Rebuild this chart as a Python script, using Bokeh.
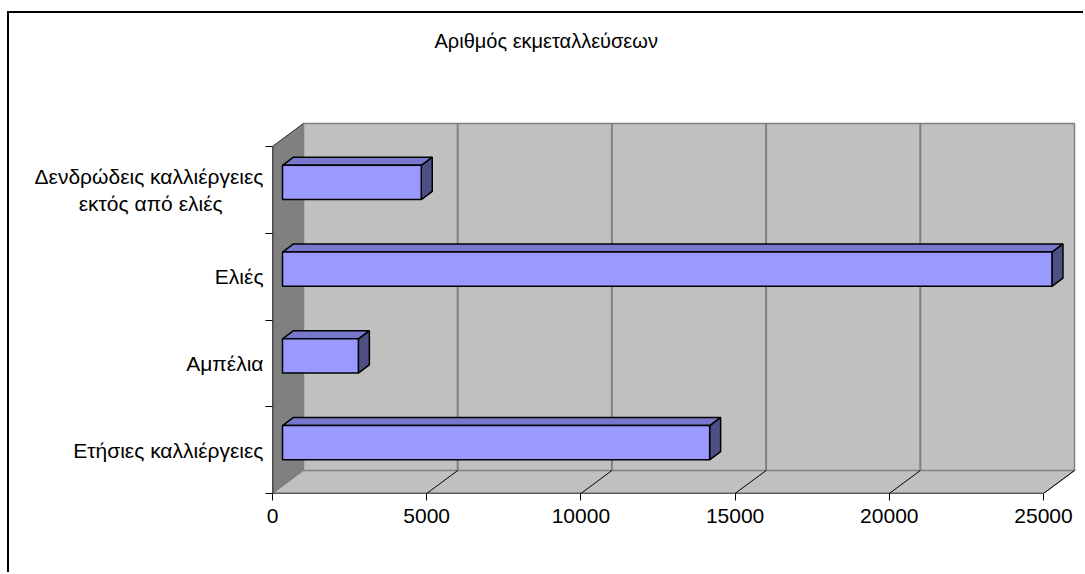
from bokeh.plotting import figure
from bokeh.models import FixedTicker, Title
from bokeh.embed import file_html
from bokeh.resources import INLINE

# ---- data ----
NB = "\u00a0"
categories = ["Ετήσιες καλλιέργειες", "Αμπέλια", "Ελιές",
              "Δενδρώδεις καλλιέργειες\nεκτός από ελιές" + NB * 7]
values = [13850, 2460, 24950, 4500]
x_ticks = [0, 5000, 10000, 15000, 20000, 25000]
x_max = 25000
title_text = "Αριθμός εκμεταλλεύσεων"

# ---- layout constants (page pixels) ----
OX, OY = 9, 13            # canvas origin on page (after border)
W, H = 1085 - OX, 574 - OY
F_LEFT, F_RIGHT, F_TOP, F_BOTTOM = 272, 1080, 62, 493
PX_PER_UNIT_X = 771 / 25000.0
PX_PER_CAT = 86.75
DEPTH_PX_X, DEPTH_PX_Y = 31, 23
FONT = "Liberation Sans"
FS = "21px"

x_end = (F_RIGHT - F_LEFT) / PX_PER_UNIT_X
y_end = (F_BOTTOM - F_TOP) / PX_PER_CAT
DX = DEPTH_PX_X / PX_PER_UNIT_X
DY = DEPTH_PX_Y / PX_PER_CAT
n = len(categories)

p = figure(width=W, height=H, output_backend="svg", toolbar_location=None,
           x_range=(0, x_end), y_range=(0, y_end),
           min_border_left=F_LEFT - OX, min_border_right=OX + W - F_RIGHT,
           min_border_top=F_TOP - OY, min_border_bottom=OY + H - F_BOTTOM)
p.styles = {"margin-left": "7px", "margin-top": "11px",
            "border-left": "2px solid #000", "border-top": "2px solid #000"}
p.outline_line_color = None
p.background_fill_color = "white"
p.border_fill_color = "white"
p.grid.visible = False

t = Title(text=title_text, align="left", offset=434 - F_LEFT,
          text_font=FONT, text_font_size="20px", text_font_style="normal",
          text_color="black", standoff=21)
p.title = t

# left wall
p.patch([0, DX, DX, 0], [0, DY, n + DY, n], fill_color="#808080",
        line_color="#606060", line_width=1)
# floor
p.patch([0, x_max, x_max + DX, DX], [0, 0, DY, DY], fill_color="#C0C0C0",
        line_color="#808080", line_width=1)
# back wall
p.quad(left=[DX], right=[x_max + DX], bottom=[DY], top=[n + DY],
       fill_color="#C0C0C0", line_color="#808080", line_width=1.5)
# back wall gridlines
gx = [v + DX for v in x_ticks[1:-1]]
p.segment(x0=gx, y0=[DY] * len(gx), x1=gx, y1=[n + DY] * len(gx),
          line_color="#808080", line_width=2)
# floor gridlines (diagonals)
fx = x_ticks[1:]
p.segment(x0=fx, y0=[0] * len(fx), x1=[v + DX for v in fx], y1=[DY] * len(fx),
          line_color="black", line_width=1)
# left wall top diagonal
p.segment(x0=[0], y0=[n], x1=[DX], y1=[n + DY], line_color="#404040", line_width=1)
# axis lines
p.segment(x0=[0], y0=[0], x1=[x_max], y1=[0], line_color="black", line_width=1.5)
p.segment(x0=[0], y0=[0], x1=[0], y1=[n], line_color="black", line_width=1.5)

# bars (3D)
f0, f1 = 10 / 31.0, 21 / 31.0
half = 0.197
for i, v in enumerate(values):
    c = i + 0.5
    yb, yt = c - half, c + half
    # side face
    p.patch([v + f0 * DX, v + f1 * DX, v + f1 * DX, v + f0 * DX],
            [yb + f0 * DY, yb + f1 * DY, yt + f1 * DY, yt + f0 * DY],
            fill_color="#4F4F85", line_color="black", line_width=1.5)
    # top face
    p.patch([0 + f0 * DX, v + f0 * DX, v + f1 * DX, 0 + f1 * DX],
            [yt + f0 * DY, yt + f0 * DY, yt + f1 * DY, yt + f1 * DY],
            fill_color="#7777CC", line_color="black", line_width=1.5)
    # front face
    p.quad(left=[0 + f0 * DX], right=[v + f0 * DX], bottom=[yb + f0 * DY], top=[yt + f0 * DY],
           fill_color="#9999FF", line_color="black", line_width=1.5)

# x axis
xa = p.xaxis[0]
xa.ticker = FixedTicker(ticks=x_ticks)
xa.axis_line_color = None
xa.major_tick_out = 7
xa.major_tick_in = 0
xa.major_tick_line_color = "black"
xa.minor_tick_line_color = None
xa.major_label_text_font = FONT
xa.major_label_text_font_size = FS
xa.major_label_text_color = "black"
xa.major_label_standoff = 8
xa.major_label_overrides = {v: str(v) for v in x_ticks}

# y axis
ya = p.yaxis[0]
ya.ticker = FixedTicker(ticks=[i + 0.5 for i in range(n)], minor_ticks=list(range(n + 1)))
ya.axis_line_color = None
ya.major_tick_line_color = None
ya.major_tick_out = 0
ya.major_tick_in = 0
ya.minor_tick_line_color = "black"
ya.minor_tick_out = 7
ya.minor_tick_in = 0
ya.major_label_text_font = FONT
ya.major_label_text_font_size = FS
ya.major_label_text_color = "black"
ya.major_label_standoff = 2
ya.major_label_overrides = {i + 0.5: categories[i] for i in range(n)}

open("out.html", "w").write(file_html(p, INLINE))
